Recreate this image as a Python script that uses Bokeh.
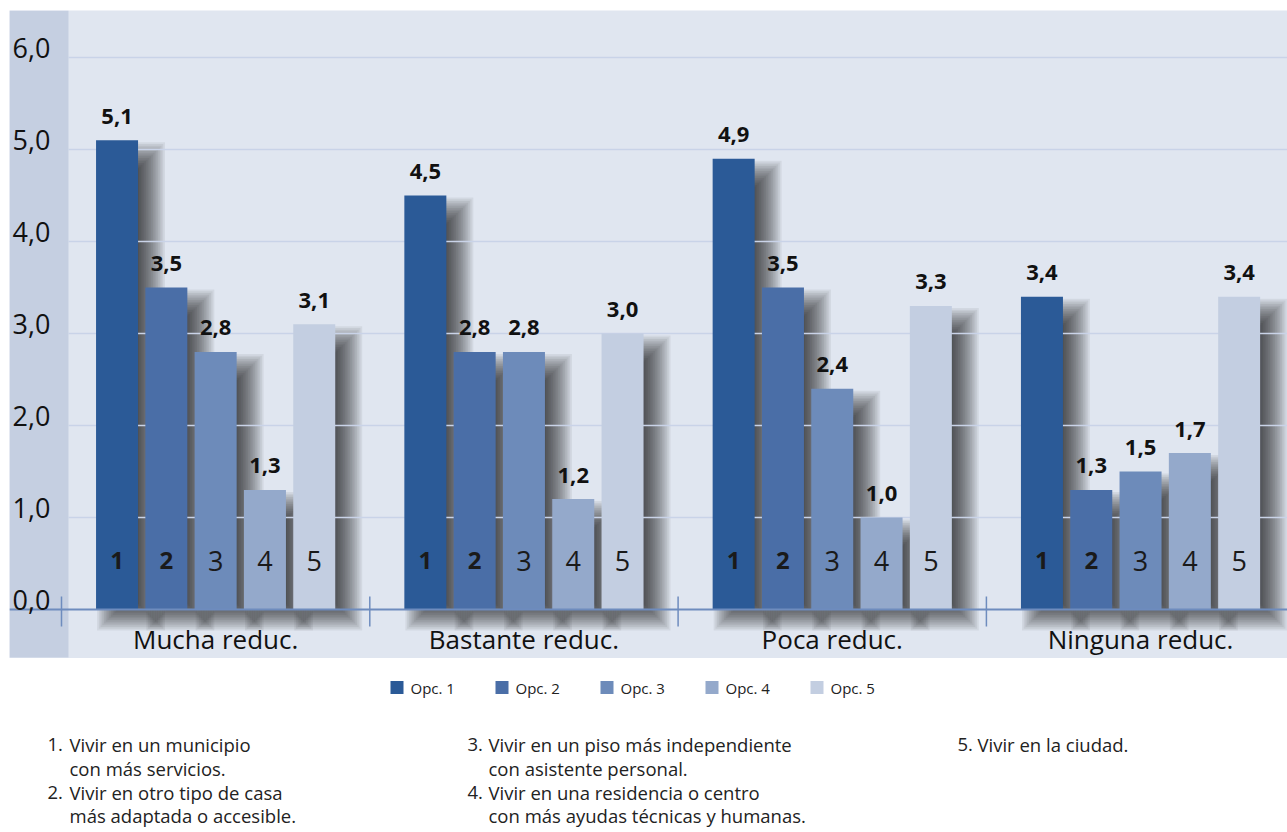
import numpy as np
from bokeh.plotting import figure
from bokeh.models import Range1d
from bokeh.layouts import column
from bokeh.core.properties import value
from bokeh.embed import file_html
from bokeh.resources import INLINE

# ---------------- data ----------------
categories = ["Mucha reduc.", "Bastante reduc.", "Poca reduc.", "Ninguna reduc."]
series = ["Opc. 1", "Opc. 2", "Opc. 3", "Opc. 4", "Opc. 5"]
bar_numbers = ["1", "2", "3", "4", "5"]
opc1 = [5.1, 4.5, 4.9, 3.4]
opc2 = [3.5, 2.8, 3.5, 1.3]
opc3 = [2.8, 2.8, 2.4, 1.5]
opc4 = [1.3, 1.2, 1.0, 1.7]
opc5 = [3.1, 3.0, 3.3, 3.4]
y_ticks = [0, 1, 2, 3, 4, 5, 6]
y_tick_labels = ["0,0", "1,0", "2,0", "3,0", "4,0", "5,0", "6,0"]
note_nums_1 = ["1.", "2."]
note_lines_1 = ["Vivir en un municipio", "con más servicios.",
                "Vivir en otro tipo de casa", "más adaptada o accesible."]
note_nums_2 = ["3.", "4."]
note_lines_2 = ["Vivir en un piso más independiente", "con asistente personal.",
                "Vivir en una residencia o centro", "con más ayudas técnicas y humanas."]
note_nums_3 = ["5."]
note_lines_3 = ["Vivir en la ciudad."]

values_by_series = [opc1, opc2, opc3, opc4, opc5]

# ---------------- style ----------------
FONT = value("Open Sans")
COLORS = ["#2b5a97", "#4a6ea7", "#6d8bba", "#94a9cb", "#c3cee1"]
LIGHT = "#e0e6f0"
DARK = "#c5cfe1"
GRID = "#c9d3e8"
AXIS = "#6e8cbe"
TXT = "#111111"

W = 1287
H = 658
PXX = 308.3   # px per category unit
PXY = 92.0    # px per value unit
FL, FT = 9, 10          # frame left / top on the page
x_start = -0.5 - (61 - FL) / PXX
x_end = x_start + (W - FL) / PXX
y_end = (609 - FT) / PXY
y_start = -(H - 609) / PXY


def px2x(px):
    return x_start + (px - FL) / PXX


bar_w = 42 / PXX
step = 49.3 / PXX

p = figure(width=W, height=H, x_range=Range1d(x_start, x_end), y_range=Range1d(y_start, y_end),
           output_backend="svg", toolbar_location=None, x_axis_type=None, y_axis_type=None,
           min_border_left=FL, min_border_right=0, min_border_top=FT, min_border_bottom=0,
           background_fill_color=LIGHT, border_fill_color="white", outline_line_color=None)

# left axis panel
p.quad(left=[x_start], right=[px2x(68)], bottom=[y_start + 1 / PXY], top=[y_end], color=DARK, line_color=None)

groups = np.arange(len(categories))
xs_all = []
vals_all = []
for j, vals in enumerate(values_by_series):
    xs_all.extend(list(groups + (j - 2) * step))
    vals_all.extend(vals)
xs_all = np.array(xs_all)
vals_all = np.array(vals_all)

# soft (blurred) drop shadows: offset rectangle drawn as stacked expanding layers
N = 16
R = 26.0
DX, DY = 14.0, 15.0
for i in range(N):
    e = -R / 2 + R * i / (N - 1)
    p.quad(left=xs_all - bar_w / 2 + (DX - e) / PXX,
           right=xs_all + bar_w / 2 + (DX + e) / PXX,
           top=vals_all - (DY - e) / PXY,
           bottom=np.full(len(xs_all), -(8 + e) / PXY),
           fill_color="black", fill_alpha=0.06, line_color=None)

# gridlines
gt = y_ticks[1:]
p.segment(x0=[px2x(68)] * len(gt), x1=[x_end] * len(gt), y0=gt, y1=gt, line_color=GRID, line_width=1.3)

# bars
for j, vals in enumerate(values_by_series):
    p.vbar(x=groups + (j - 2) * step, top=vals, bottom=0, width=bar_w,
           fill_color=COLORS[j], line_color=None)

# baseline and separators
p.segment(x0=[x_start], x1=[x_end], y0=[0], y1=[0], line_color=AXIS, line_width=2)
seps = list(groups - 0.5)
p.segment(x0=seps, x1=seps, y0=[(609 - 596) / PXY] * len(seps), y1=[-(626 - 609) / PXY] * len(seps),
          line_color=AXIS, line_width=1.5)

# y tick labels
p.text(x=[px2x(12)] * len(y_ticks), y=[t + 0.1 for t in y_ticks], text=y_tick_labels,
       text_font=FONT, text_font_size="27px", text_align="left", text_baseline="middle",
       text_color=TXT)

# value labels
labels = [f"{v:.1f}".replace(".", ",") for v in vals_all]
p.text(x=xs_all, y=vals_all + 0.26, text=labels, text_font=FONT, text_font_size="22px",
       text_font_style="bold", text_align="center", text_baseline="middle", text_color=TXT)

# numbers inside bars
for j in range(len(series)):
    p.text(x=groups + (j - 2) * step, y=[0.53] * len(groups), text=[bar_numbers[j]] * len(groups),
           text_font=FONT, text_font_size="24px" if j < 2 else "27px",
           text_font_style="bold" if j < 2 else "normal",
           text_align="center", text_baseline="middle", text_color="#1a1a1a")

# category labels
p.text(x=groups, y=[-(638 - 609) / PXY] * len(groups), text=categories, text_font=FONT,
       text_font_size="26px", text_align="center", text_baseline="middle", text_color=TXT)

# ---------------- legend + notes ----------------
H2 = 172
f2 = figure(width=W, height=H2, x_range=Range1d(FL, W), y_range=Range1d(H + H2, H),
            output_backend="svg", toolbar_location=None, x_axis_type=None, y_axis_type=None,
            min_border_left=FL, min_border_right=0, min_border_top=0, min_border_bottom=0,
            background_fill_color="white", border_fill_color="white",
            outline_line_color=None)

leg_text_x = [410 + 105 * i for i in range(len(series))]
f2.rect(x=[t - 13.5 for t in leg_text_x], y=[687] * len(series), width=13, height=13,
        fill_color=COLORS, line_color=None)
f2.text(x=leg_text_x, y=[687] * len(series), text=series, text_font=FONT, text_font_size="15px",
        text_align="left", text_baseline="middle", text_color="#222222")

rows = [744, 768, 792, 815]
NSIZE = "18.5px"
NCOL = "#222222"
f2.text(x=[47, 47], y=[rows[0], rows[2]], text=note_nums_1, text_font=FONT, text_font_size=NSIZE,
        text_baseline="middle", text_color=NCOL)
f2.text(x=[69] * 4, y=rows, text=note_lines_1, text_font=FONT, text_font_size=NSIZE,
        text_baseline="middle", text_color=NCOL)
f2.text(x=[467, 467], y=[rows[0], rows[2]], text=note_nums_2, text_font=FONT, text_font_size=NSIZE,
        text_baseline="middle", text_color=NCOL)
f2.text(x=[488] * 4, y=rows, text=note_lines_2, text_font=FONT, text_font_size=NSIZE,
        text_baseline="middle", text_color=NCOL)
f2.text(x=[957], y=[rows[0]], text=note_nums_3, text_font=FONT, text_font_size=NSIZE,
        text_baseline="middle", text_color=NCOL)
f2.text(x=[977], y=[rows[0]], text=note_lines_3, text_font=FONT, text_font_size=NSIZE,
        text_baseline="middle", text_color=NCOL)

layout = column(p, f2, spacing=0)
open("out.html", "w").write(file_html(layout, INLINE))
